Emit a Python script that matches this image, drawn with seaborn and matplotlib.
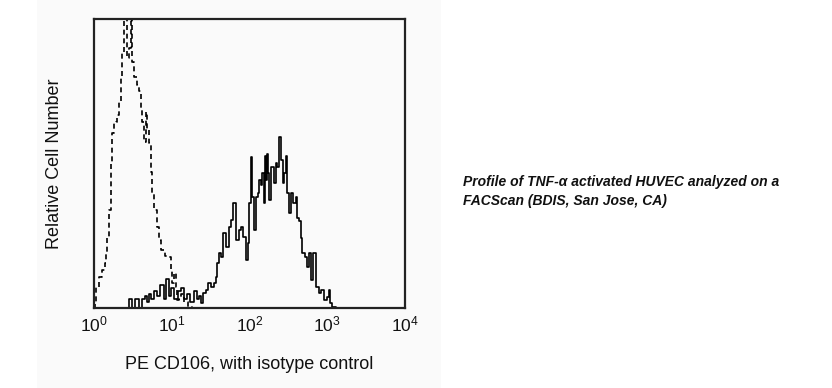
import matplotlib
matplotlib.use("Agg")
import matplotlib.pyplot as plt
import seaborn as sns
import numpy as np
import pandas as pd
from matplotlib.patches import Rectangle

# log10 fluorescence vs relative count (% of axis height)
isotype_log = [0.0, 0.013, 0.039, 0.077, 0.116, 0.154, 0.167, 0.180, 0.206, 0.219, 0.231,
               0.244, 0.270, 0.296, 0.308, 0.334, 0.360, 0.373, 0.386, 0.411, 0.437,
               0.463, 0.476, 0.488, 0.501, 0.527, 0.566, 0.591, 0.617, 0.630, 0.656,
               0.681, 0.694, 0.720, 0.746, 0.758, 0.784, 0.823, 0.848, 0.887, 0.938,
               0.977, 1.003, 1.015, 1.041, 1.067, 1.080, 1.105, 1.144, 1.180, 1.230,
               1.300, 1.500]
isotype_cnt = [0.0, 1.7, 7.3, 10.7, 13.1, 15.6, 19.0, 24.6, 33.9, 44.3, 50.2,
               60.6, 64.0, 64.4, 66.8, 71.3, 80.0, 88.2, 110.0, 115.0, 86.5,
               90.0, 110.0, 110.0, 85.1, 79.9, 77.2, 75.0, 69.2, 64.4, 57.4,
               67.8, 62.0, 57.0, 47.0, 39.4, 33.9, 28.0, 23.5, 20.1, 18.0,
               17.6, 13.1, 8.6, 12.1, 7.3, 2.8, 3.0, 5.0, 2.0, 0.5,
               0.0, 0.0]

cd106_log = [0.424, 0.463, 0.501, 0.553, 0.591, 0.643, 0.668, 0.694, 0.720, 0.746,
             0.784, 0.823, 0.874, 0.913, 0.951, 0.977, 1.015, 1.054, 1.105, 1.144,
             1.18, 1.22, 1.26, 1.30, 1.34, 1.36, 1.39, 1.42, 1.45, 1.49,
             1.52, 1.56, 1.58, 1.59, 1.62, 1.65, 1.68, 1.71, 1.75, 1.77,
             1.81, 1.84, 1.88, 1.90, 1.94, 1.97, 1.98, 2.01, 2.03, 2.04,
             2.07, 2.10, 2.11, 2.13, 2.16, 2.17, 2.19, 2.20, 2.22, 2.23,
             2.24, 2.26, 2.29, 2.33, 2.35, 2.37, 2.39, 2.42, 2.43, 2.46,
             2.48, 2.49, 2.52, 2.54, 2.58, 2.61, 2.62, 2.65, 2.67, 2.69,
             2.74, 2.75, 2.78, 2.80, 2.84, 2.87, 2.91, 2.94, 2.97, 3.01,
             3.03, 3.05, 3.07, 3.15]
cd106_cnt = [0.0, 3.0, 0.0, 3.0, 0.0, 3.0, 4.0, 2.0, 5.0, 3.0,
             6.0, 4.0, 8.0, 3.0, 10.0, 4.0, 7.0, 3.0, 6.0, 7.0,
             3.0, 5.0, 2.0, 6.0, 3.0, 4.0, 1.7, 5.2, 6.2, 8.7,
             7.3, 8.7, 10.7, 15.6, 19.0, 17.6, 25.9, 21.1, 28.0, 30.4,
             36.3, 23.5, 26.9, 28.0, 24.6, 16.6, 22.5, 36.3, 52.2, 38.4,
             26.9, 38.4, 39.8, 44.3, 42.6, 46.7, 36.3, 52.6, 44.3, 53.3,
             46.7, 37.4, 48.8, 43.3, 50.2, 48.8, 59.2, 51.2, 43.3, 46.7,
             52.6, 39.8, 32.9, 39.8, 36.3, 38.4, 31.1, 30.1, 24.2, 19.0,
             17.6, 14.2, 19.0, 9.7, 19.0, 7.3, 5.2, 6.2, 2.8, 3.8,
             6.2, 1.7, 0.3, 0.0]

x_ticks = [1, 10, 100, 1000, 10000]
x_label = "PE CD106, with isotype control"
y_label = "Relative Cell Number"
note = "Profile of TNF-\u03b1 activated HUVEC analyzed on a\nFACScan (BDIS, San Jose, CA)"

sns.set_style("white")
plt.rcParams['font.family'] = ['Liberation Sans', 'DejaVu Sans']
plt.rcParams['mathtext.fontset'] = 'custom'
plt.rcParams['mathtext.rm'] = 'Liberation Sans'

fig = plt.figure(figsize=(8.32, 3.88), dpi=100)
fig.patches.append(Rectangle((37 / 832, 0), 404 / 832, 1, transform=fig.transFigure,
                             facecolor="#fafafa", edgecolor="none", zorder=-10))
ax = fig.add_axes([94 / 832, 80 / 388, 311 / 832, 289 / 388])
ax.set_facecolor("#fafafa")

iso = pd.DataFrame({"fl": 10 ** np.array(isotype_log), "count": isotype_cnt})
cd = pd.DataFrame({"fl": 10 ** np.array(cd106_log), "count": cd106_cnt})

sns.lineplot(data=iso, x="fl", y="count", ax=ax, color="black", lw=1.2,
             linestyle=(0, (3, 2.2)), drawstyle="steps-mid", estimator=None, sort=False)
sns.lineplot(data=cd, x="fl", y="count", ax=ax, color="black", lw=1.2,
             drawstyle="steps-mid", estimator=None, sort=False)

ax.set_xscale("log")
ax.set_xlim(1, 10000)
ax.set_ylim(0, 100)
ax.set_xticks(x_ticks)
ax.xaxis.set_minor_locator(matplotlib.ticker.NullLocator())
ax.set_yticks([])
ax.tick_params(axis="x", length=0, pad=5, labelsize=12.5, colors="#111111")
for s in ax.spines.values():
    s.set_linewidth(1.6)
    s.set_color("#222222")

ax.set_xlabel(x_label, fontsize=13, labelpad=15, color="#111111")
ax.set_ylabel(y_label, fontsize=13, labelpad=22, color="#111111")

fig.text(463 / 832, 1 - 175 / 388, note, fontsize=10, style="italic", fontweight="bold",
         va="top", ha="left", linespacing=1.5, color="#111111")

fig.savefig("out.png", dpi=100)
